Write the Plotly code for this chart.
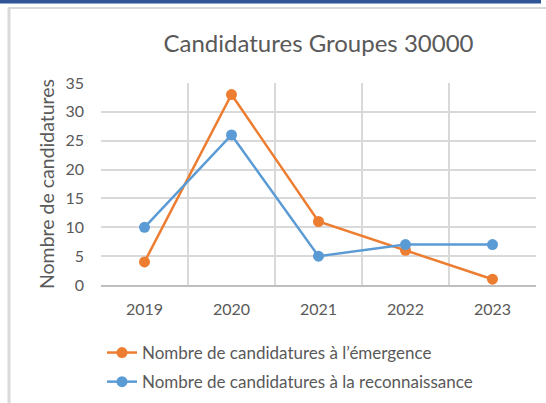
import plotly.graph_objects as go

years = ["2019", "2020", "2021", "2022", "2023"]
emergence = [4, 33, 11, 6, 1]
reconnaissance = [10, 26, 5, 7, 7]
y_ticks = [0, 5, 10, 15, 20, 25, 30, 35]

W, H = 546, 403
L, R, T, B = 101, 536, 83, 285
pw, ph = R - L, B - T

def px(x):
    return (x - L) / pw

def py(y):
    return (B - y) / ph

FONT = "Lato"
GREY = "#595959"

fig = go.Figure()
fig.add_trace(go.Scatter(
    x=years, y=emergence, mode="lines+markers",
    name="Nombre de candidatures à l’émergence", legendgroup="a",
    line=dict(color="#ED7D31", width=2.5),
    marker=dict(color="#ED7D31", size=11),
))
fig.add_trace(go.Scatter(
    x=years, y=reconnaissance, mode="lines+markers",
    name="Nombre de candidatures à la reconnaissance", legendgroup="b",
    line=dict(color="#5B9BD5", width=2.5),
    marker=dict(color="#5B9BD5", size=11),
))

shapes = [
    dict(type="rect", xref="paper", yref="paper", x0=px(0), x1=px(541), y0=py(3.5), y1=py(0),
         fillcolor="#2F5597", line=dict(width=0), layer="above"),
    dict(type="line", xref="paper", yref="paper", x0=px(8), x1=px(546), y0=py(8), y1=py(8),
         line=dict(color="#D9D9D9", width=2)),
    dict(type="line", xref="paper", yref="paper", x0=px(9), x1=px(9), y0=py(8), y1=py(403),
         line=dict(color="#D9D9D9", width=3)),
]

fig.update_layout(
    width=W, height=H,
    margin=dict(l=L, r=W - R, t=T, b=H - B),
    paper_bgcolor="white", plot_bgcolor="white",
    font=dict(family=FONT, color=GREY, size=15),
    title=dict(text="Candidatures Groupes 30000", x=0.5, xref="paper", xanchor="center",
               y=1 - 44 / H, yanchor="middle", font=dict(size=24, color=GREY, family=FONT)),
    showlegend=True,
    legend=dict(x=px(102), y=1 - 335 / H, yref="container", xanchor="left", yanchor="top",
                orientation="v", font=dict(size=17, color=GREY, family=FONT),
                bgcolor="rgba(0,0,0,0)", traceorder="grouped", tracegroupgap=4,
                borderwidth=0),
    shapes=shapes,
    xaxis=dict(
        type="category", range=[-0.5, 4.5], tickson="boundaries",
        showgrid=True, gridcolor="#D9D9D9", gridwidth=1.5,
        showline=True, linecolor="#BFBFBF", linewidth=1.5, mirror=False,
        ticks="", tickfont=dict(size=16, color=GREY), ticklabelstandoff=9,
        zeroline=False, fixedrange=True, automargin=False,
    ),
    yaxis=dict(
        range=[0, 35], tickvals=y_ticks,
        showgrid=True, gridcolor="#D9D9D9", gridwidth=1.5,
        showline=False, zeroline=False,
        ticks="", tickfont=dict(size=16, color=GREY), ticklabelstandoff=16,
        title=dict(text="Nombre de candidatures", font=dict(size=19.5, color=GREY), standoff=5),
        fixedrange=True, automargin=False,
    ),
)

fig.write_html("out.html", config={"displayModeBar": False},
               post_script="document.body.style.margin='0';")
